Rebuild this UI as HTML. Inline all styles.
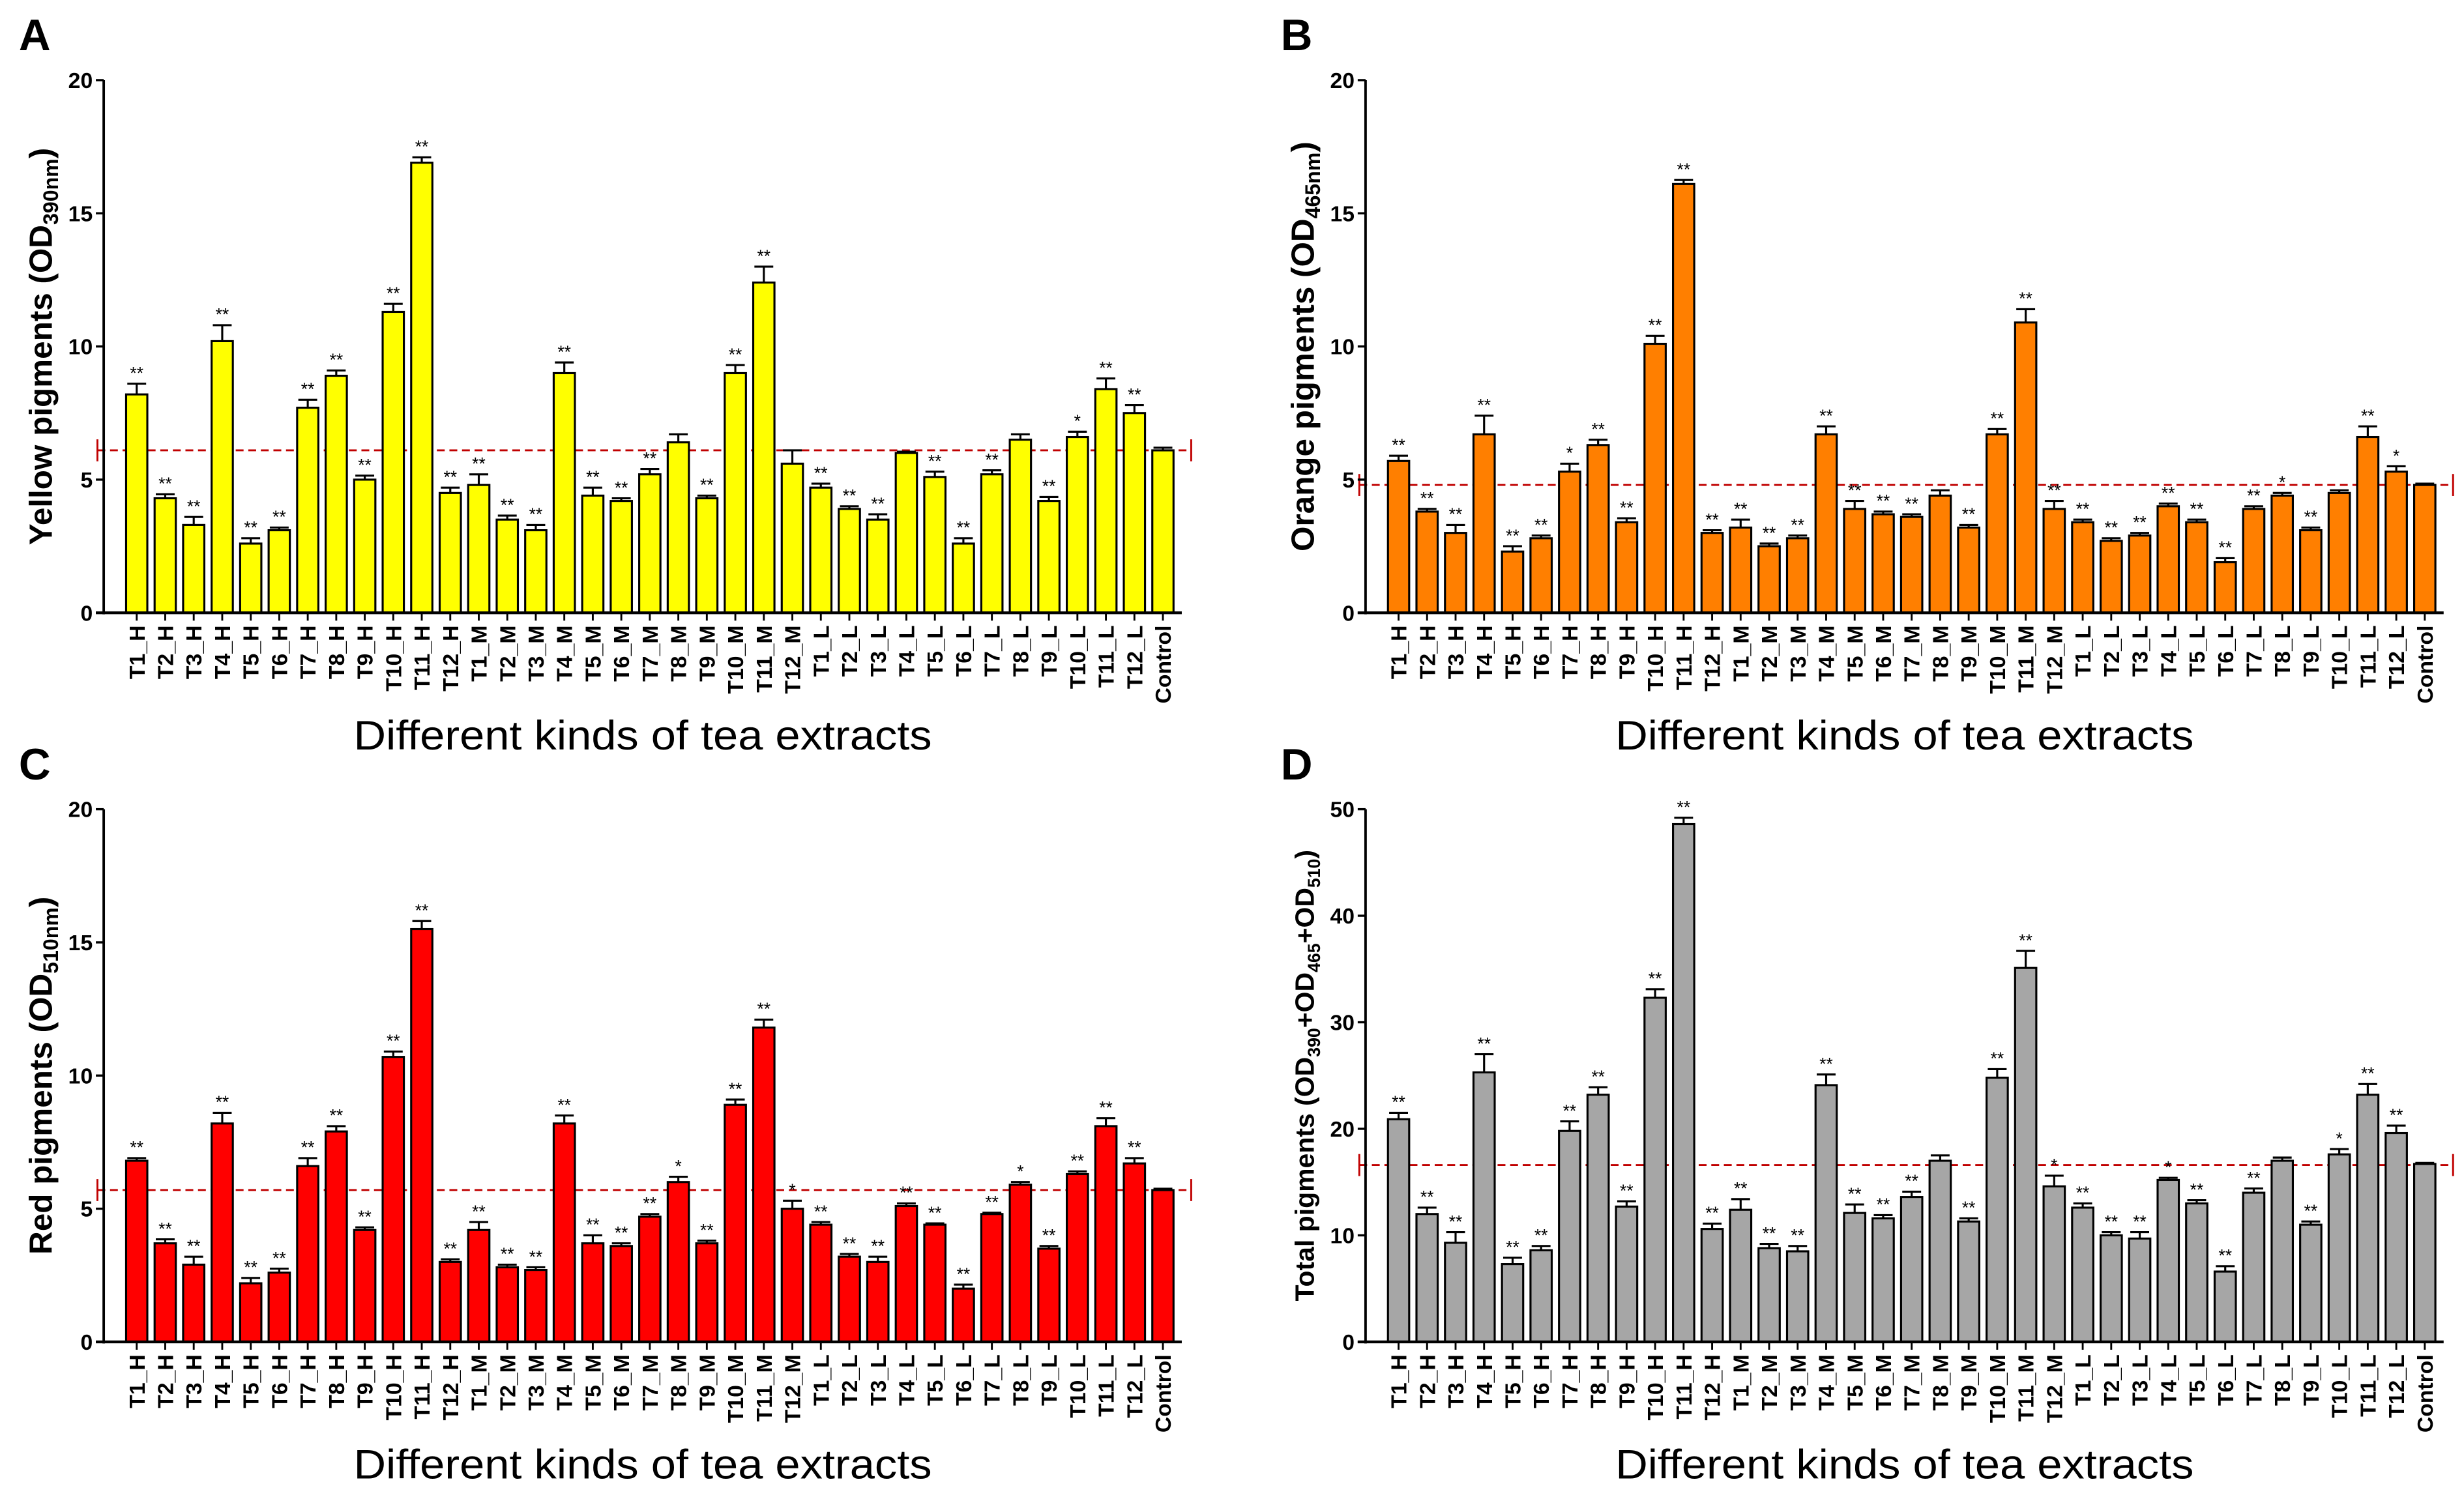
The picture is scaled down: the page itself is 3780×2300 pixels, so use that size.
<!DOCTYPE html>
<html><head><meta charset="utf-8"><style>
html,body{margin:0;padding:0;background:#fff;}
svg{display:block;}
text{font-family:"Liberation Sans",Arial,sans-serif;}
</style></head><body>
<svg id="chart" width="3780" height="2300" viewBox="0 0 1568 954" preserveAspectRatio="none" xmlns="http://www.w3.org/2000/svg"></svg>
<script>
const categories=["T1_H","T2_H","T3_H","T4_H","T5_H","T6_H","T7_H","T8_H","T9_H","T10_H","T11_H","T12_H","T1_M","T2_M","T3_M","T4_M","T5_M","T6_M","T7_M","T8_M","T9_M","T10_M","T11_M","T12_M","T1_L","T2_L","T3_L","T4_L","T5_L","T6_L","T7_L","T8_L","T9_L","T10_L","T11_L","T12_L","Control"];
const yellowVals=[8.2,4.3,3.3,10.2,2.6,3.1,7.7,8.9,5.0,11.3,16.9,4.5,4.8,3.5,3.1,9.0,4.4,4.2,5.2,6.4,4.3,9.0,12.4,5.6,4.7,3.9,3.5,6.0,5.1,2.6,5.2,6.5,4.2,6.6,8.4,7.5,6.1];
const yellowErr=[0.4,0.15,0.3,0.6,0.2,0.1,0.3,0.2,0.15,0.3,0.2,0.2,0.4,0.15,0.2,0.4,0.3,0.1,0.2,0.3,0.1,0.3,0.6,0.5,0.15,0.1,0.2,0.05,0.2,0.2,0.15,0.2,0.15,0.2,0.4,0.3,0.1];
const yellowSig=["**","**","**","**","**","**","**","**","**","**","**","**","**","**","**","**","**","**","**","","**","**","**","","**","**","**","","**","**","**","","**","*","**","**",""];
const orangeVals=[5.7,3.8,3.0,6.7,2.3,2.8,5.3,6.3,3.4,10.1,16.1,3.0,3.2,2.5,2.8,6.7,3.9,3.7,3.6,4.4,3.2,6.7,10.9,3.9,3.4,2.7,2.9,4.0,3.4,1.9,3.9,4.4,3.1,4.5,6.6,5.3,4.8];
const orangeErr=[0.2,0.1,0.3,0.7,0.2,0.1,0.3,0.2,0.15,0.3,0.15,0.1,0.3,0.1,0.1,0.3,0.3,0.1,0.1,0.2,0.1,0.2,0.5,0.3,0.1,0.1,0.1,0.1,0.1,0.15,0.1,0.1,0.1,0.1,0.4,0.2,0.05];
const orangeSig=["**","**","**","**","**","**","*","**","**","**","**","**","**","**","**","**","**","**","**","","**","**","**","**","**","**","**","**","**","**","**","*","**","","**","*",""];
const redVals=[6.8,3.7,2.9,8.2,2.2,2.6,6.6,7.9,4.2,10.7,15.5,3.0,4.2,2.8,2.7,8.2,3.7,3.6,4.7,6.0,3.7,8.9,11.8,5.0,4.4,3.2,3.0,5.1,4.4,2.0,4.8,5.9,3.5,6.3,8.1,6.7,5.7];
const redErr=[0.1,0.15,0.3,0.4,0.2,0.15,0.3,0.2,0.1,0.2,0.3,0.1,0.3,0.1,0.1,0.3,0.3,0.1,0.1,0.2,0.1,0.2,0.3,0.3,0.1,0.1,0.2,0.1,0.05,0.15,0.05,0.1,0.1,0.1,0.3,0.2,0.05];
const redSig=["**","**","**","**","**","**","**","**","**","**","**","**","**","**","**","**","**","**","**","*","**","**","**","*","**","**","**","**","**","**","**","*","**","**","**","**",""];
const totalVals=[20.9,12.0,9.3,25.3,7.3,8.6,19.8,23.2,12.7,32.3,48.6,10.6,12.4,8.8,8.5,24.1,12.1,11.6,13.6,17.0,11.3,24.8,35.1,14.6,12.6,10.0,9.7,15.2,13.0,6.6,14.0,17.0,11.0,17.6,23.2,19.6,16.7];
const totalErr=[0.6,0.6,1.0,1.7,0.6,0.4,0.9,0.7,0.5,0.8,0.6,0.5,1.0,0.4,0.5,1.0,0.8,0.3,0.5,0.5,0.3,0.8,1.6,1.0,0.4,0.3,0.6,0.2,0.3,0.5,0.4,0.3,0.3,0.5,1.0,0.7,0.1];
const totalSig=["**","**","**","**","**","**","**","**","**","**","**","**","**","**","**","**","**","**","**","","**","**","**","*","**","**","**","*","**","**","**","","**","*","**","**",""];
const yTicks20=[0,5,10,15,20];
const yTicks50=[0,10,20,30,40,50];
const refLines=[6.1,4.8,5.7,16.6];

const NS="http://www.w3.org/2000/svg";
const svg=document.getElementById('chart');
function el(tag,attrs,parent,txt){const e=document.createElementNS(NS,tag);for(const k in attrs)e.setAttribute(k,attrs[k]);if(txt!==undefined)e.textContent=txt;(parent||svg).appendChild(e);return e;}

function panel(cfg){
  const g=el('g',{transform:`translate(${cfg.ox},${cfg.oy})`});
  
  
  const axX=66,top=51,bot=390,x0=87,step=18.14,bw=13.5;
  const ymax=cfg.ticks[cfg.ticks.length-1];
  const Y=v=>bot-(v/ymax)*(bot-top);
  const X=i=>x0+i*step;
  const xEnd=X(categories.length-1)+12;
  const L=el('text',{x:12,y:32,'font-family':'Liberation Serif,serif','font-weight':'bold','font-size':28},g,cfg.letter);
  
  
  const ry=Y(cfg.ref);
  const rl=el('line',{x1:axX-4,x2:xEnd+4,y1:ry,y2:ry,stroke:'#c00000','stroke-width':1.2,'stroke-dasharray':'5,3'},g);
  
  
  el('line',{x1:axX-4,x2:axX-4,y1:ry-7,y2:ry+7,stroke:'#c00000','stroke-width':1.2},g);
  el('line',{x1:xEnd+6,x2:xEnd+6,y1:ry-7,y2:ry+7,stroke:'#c00000','stroke-width':1.2},g);
  categories.forEach((c,i)=>{
    const v=cfg.vals[i],e=cfg.err[i],cx=X(i);
    const b=el('rect',{x:cx-bw/2,y:Y(v),width:bw,height:bot-Y(v),fill:cfg.color,stroke:'#000','stroke-width':1.3},g);
    
    
    const et=Y(v+e);
    el('line',{x1:cx,x2:cx,y1:Y(v),y2:et,stroke:'#000','stroke-width':1.3},g);
    el('line',{x1:cx-6,x2:cx+6,y1:et,y2:et,stroke:'#000','stroke-width':1.3},g);
    if(cfg.sig[i]){
      const s=el('text',{x:cx,y:et-3,'text-anchor':'middle','font-size':11},g,cfg.sig[i]);
      
      
    }
    el('line',{x1:cx,x2:cx,y1:bot,y2:bot+5,stroke:'#000','stroke-width':1.2},g);
    const t=el('text',{transform:`translate(${cx+5},${bot+8}) rotate(-90)`,'text-anchor':'end','font-size':14,'font-weight':'bold'},g,c);
    
    
  });
  const ya=el('line',{x1:axX,x2:axX,y1:top,y2:bot+1,stroke:'#000','stroke-width':1.6},g);
  
  
  const xa=el('line',{x1:axX-5,x2:xEnd,y1:bot,y2:bot,stroke:'#000','stroke-width':1.8},g);
  
  
  cfg.ticks.forEach(t=>{
    el('line',{x1:axX-5,x2:axX,y1:Y(t),y2:Y(t),stroke:'#000','stroke-width':1.4},g);
    const tl=el('text',{x:axX-7,y:Y(t)+5,'text-anchor':'end','font-size':14,'font-weight':'bold'},g,String(t));
    
    
  });
  const ys=cfg.ytSize||20.5;
  const yt=el('text',{transform:`translate(${cfg.ytX||33},${(top+bot)/2}) rotate(-90)`,'text-anchor':'middle','font-size':ys,'font-weight':'bold'},g);
  
  
  cfg.ytitle.forEach(p=>{el('tspan',p.sub?{'font-size':ys*0.65,dy:4}:(p.up?{dy:-4}:{}),yt,p.t);});
  const xt=el('text',{x:(axX+xEnd)/2,y:477,'text-anchor':'middle','font-size':26,textLength:368,lengthAdjust:'spacingAndGlyphs'},g,'Different kinds of tea extracts');
  
  
}
panel({name:'panel-a-yellow',letter:'A',ox:0,oy:0,vals:yellowVals,err:yellowErr,sig:yellowSig,color:'#ffff00',ticks:yTicks20,ref:refLines[0],
  ytitle:[{t:'Yellow pigments (OD'},{t:'390nm',sub:1},{t:')',up:1}]});
panel({name:'panel-b-orange',letter:'B',ox:803,oy:0,vals:orangeVals,err:orangeErr,sig:orangeSig,color:'#ff7f00',ticks:yTicks20,ref:refLines[1],
  ytitle:[{t:'Orange pigments (OD'},{t:'465nm',sub:1},{t:')',up:1}]});
panel({name:'panel-c-red',letter:'C',ox:0,oy:464,vals:redVals,err:redErr,sig:redSig,color:'#ff0000',ticks:yTicks20,ref:refLines[2],
  ytitle:[{t:'Red pigments (OD'},{t:'510nm',sub:1},{t:')',up:1}]});
panel({name:'panel-d-total',letter:'D',ox:803,oy:464,vals:totalVals,err:totalErr,sig:totalSig,color:'#a6a6a6',ticks:yTicks50,ref:refLines[3],ytSize:17,
  ytitle:[{t:'Total pigments (OD'},{t:'390',sub:1},{t:'+OD',up:1},{t:'465',sub:1},{t:'+OD',up:1},{t:'510',sub:1},{t:')',up:1}]});
</script>
</body></html>
